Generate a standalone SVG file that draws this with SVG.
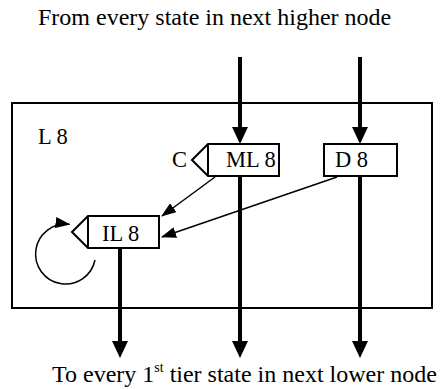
<svg xmlns="http://www.w3.org/2000/svg" width="441" height="389" viewBox="0 0 441 389" font-family="'Liberation Serif', 'DejaVu Serif', serif">
<style>
text{font-family:"Liberation Serif","DejaVu Serif",serif;fill:#000}
.lbl{font-size:22.5px}
.cap{font-size:24px}
.box{fill:#fff;stroke:#000;stroke-width:2}
.thick{stroke:#000;stroke-width:4;fill:none}
.thin{stroke:#000;stroke-width:1.5;fill:none}
</style>
<defs>
<marker id="bigHead" markerUnits="userSpaceOnUse" markerWidth="18" markerHeight="16" refX="8" refY="8" orient="auto">
<path d="M0,0 L17,8 L0,16 z" fill="#000"/>
</marker>
<marker id="smallHead" markerUnits="userSpaceOnUse" markerWidth="15" markerHeight="11" refX="14" refY="5.5" orient="auto">
<path d="M0,0 L15,5.5 L0,11 z" fill="#000"/>
</marker>
</defs>
<text class="cap" font-family="Liberation Serif, serif" x="38" y="25">From every state in next higher node</text>
<text class="cap" font-family="Liberation Serif, serif" x="52" y="382">To every 1<tspan font-size="14" dy="-10">st</tspan><tspan dy="10"> tier state in next lower node</tspan></text>
<g id="L8">
<rect x="12" y="103" width="420" height="205" fill="none" stroke="#000" stroke-width="2"/>
<text class="lbl" font-family="Liberation Serif, serif" x="38" y="144">L 8</text>
</g>
<g id="connectors">
<line class="thick" x1="240" y1="57" x2="240" y2="135" marker-end="url(#bigHead)"/>
<line class="thick" x1="360" y1="57" x2="360" y2="135" marker-end="url(#bigHead)"/>
<line class="thick" x1="240" y1="176" x2="240" y2="349" marker-end="url(#bigHead)"/>
<line class="thick" x1="360" y1="176" x2="360" y2="349" marker-end="url(#bigHead)"/>
<line class="thick" x1="120" y1="248" x2="120" y2="349" marker-end="url(#bigHead)"/>
<line class="thin" x1="215" y1="177" x2="162" y2="216" marker-end="url(#smallHead)"/>
<line class="thin" x1="337" y1="177" x2="162" y2="237" marker-end="url(#smallHead)"/>
<path class="thin" d="M95,260 A30,30 0 1 1 69.5,224.3" marker-end="url(#smallHead)"/>
</g>
<g id="ML8">
<polygon class="box" points="192,160 208,144 279,144 279,176 208,176"/>
<line x1="208" y1="144" x2="208" y2="176" stroke="#000" stroke-width="2"/>
<text class="lbl" font-family="Liberation Serif, serif" x="172" y="167">C</text>
<text class="lbl" font-family="Liberation Serif, serif" x="226" y="167">ML 8</text>
</g>
<g id="D8">
<rect class="box" x="324" y="144" width="73" height="32"/>
<text class="lbl" font-family="Liberation Serif, serif" x="335" y="167">D 8</text>
</g>
<g id="IL8">
<polygon class="box" points="72,232 88,216 159,216 159,248 88,248"/>
<line x1="88" y1="216" x2="88" y2="248" stroke="#000" stroke-width="2"/>
<text class="lbl" font-family="Liberation Serif, serif" x="102" y="241">IL 8</text>
</g>
</svg>
